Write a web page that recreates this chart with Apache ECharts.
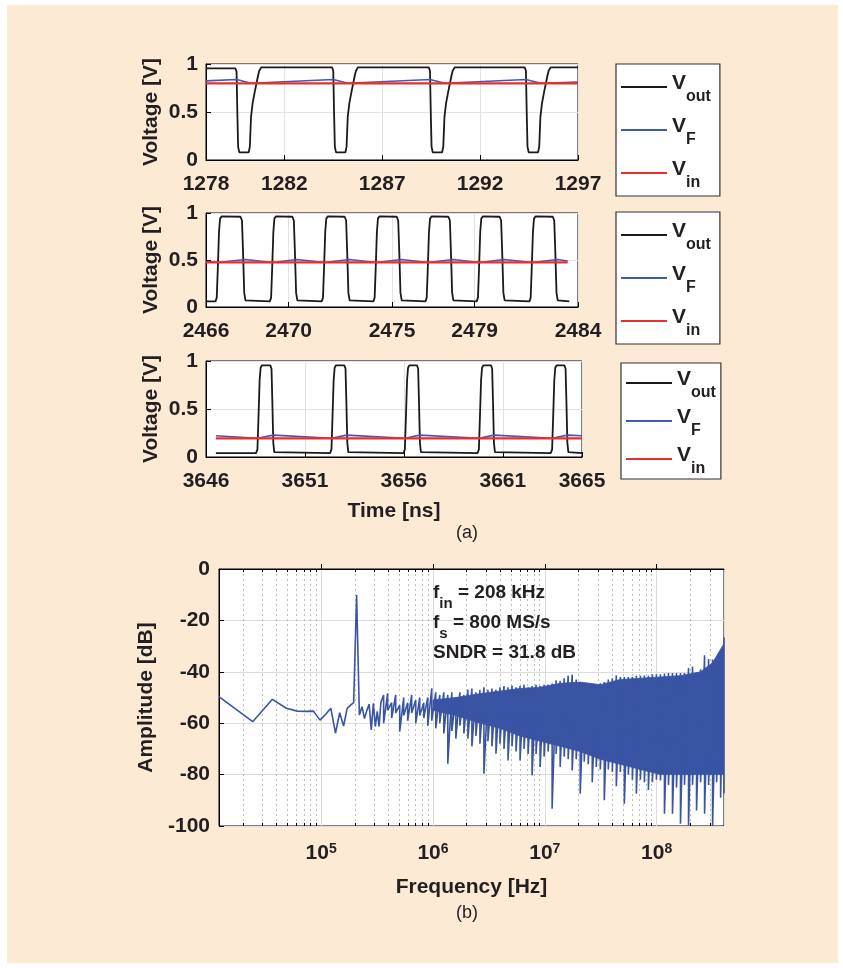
<!DOCTYPE html>
<html>
<head>
<meta charset="utf-8">
<script src="https://cdn.jsdelivr.net/npm/echarts@6/dist/echarts.min.js"></script>
<style>
  html, body { margin: 0; padding: 0; background: #fff; }
  #frame { position: absolute; left: 7px; top: 5px; width: 831px; height: 958px; background: #fdead4; }
  #chart { position: absolute; left: 0; top: 0; width: 843px; height: 968px; }
</style>
</head>
<body>
<div id="frame"></div>
<div id="chart"></div>
<script>
// ---- values ----
const ticks1 = [1278, 1282, 1287, 1292, 1297];
const ticks2 = [2466, 2470, 2475, 2479, 2484];
const ticks3 = [3646, 3651, 3656, 3661, 3665];

// panel 1: [time ns, volts]
const vout1 = [
  [1278.00, 0.955], [1279.50, 0.955], [1279.56, 0.92], [1279.60, 0.50], [1279.64, 0.14], [1279.70, 0.08],
  [1280.18, 0.08], [1280.24, 0.14], [1280.30, 0.45], [1280.38, 0.59], [1280.50, 0.72], [1280.58, 0.80],
  [1280.66, 0.88], [1280.72, 0.93], [1280.82, 0.965],
  [1284.44, 0.965], [1284.50, 0.93], [1284.54, 0.50], [1284.58, 0.14], [1284.64, 0.08],
  [1285.12, 0.08], [1285.18, 0.14], [1285.24, 0.45], [1285.32, 0.59], [1285.44, 0.72], [1285.52, 0.80],
  [1285.60, 0.88], [1285.66, 0.93], [1285.76, 0.965],
  [1289.38, 0.965], [1289.44, 0.93], [1289.48, 0.50], [1289.52, 0.14], [1289.58, 0.08],
  [1290.06, 0.08], [1290.12, 0.14], [1290.18, 0.45], [1290.26, 0.59], [1290.38, 0.72], [1290.46, 0.80],
  [1290.54, 0.88], [1290.60, 0.93], [1290.70, 0.965],
  [1294.28, 0.965], [1294.34, 0.93], [1294.38, 0.50], [1294.42, 0.14], [1294.48, 0.08],
  [1294.96, 0.08], [1295.02, 0.14], [1295.08, 0.45], [1295.16, 0.59], [1295.28, 0.72], [1295.36, 0.80],
  [1295.44, 0.88], [1295.50, 0.93], [1295.60, 0.965],
  [1297.00, 0.965]
];
const vf1 = [
  [1278, 0.824], [1279.57, 0.838], [1280.3, 0.80], [1284.5, 0.838], [1285.25, 0.80],
  [1289.44, 0.838], [1290.2, 0.80], [1294.34, 0.838], [1295.1, 0.80], [1297, 0.813]
];
const vin1 = [[1278, 0.798], [1297, 0.798]];

// panel 2
const vout2 = [
  [2466.00, 0.06],
  [2466.46, 0.06], [2466.52, 0.10], [2466.57, 0.40], [2466.63, 0.80], [2466.68, 0.94], [2466.76, 0.965],
  [2467.67, 0.96], [2467.74, 0.92], [2467.79, 0.60], [2467.85, 0.15], [2467.91, 0.07], [2467.97, 0.06],
  [2469.09, 0.06], [2469.15, 0.10], [2469.20, 0.40], [2469.26, 0.80], [2469.31, 0.94], [2469.39, 0.965],
  [2470.18, 0.96], [2470.25, 0.92], [2470.30, 0.60], [2470.36, 0.15], [2470.42, 0.07], [2470.48, 0.06],
  [2471.60, 0.06], [2471.66, 0.10], [2471.71, 0.40], [2471.77, 0.80], [2471.82, 0.94], [2471.90, 0.965],
  [2472.71, 0.96], [2472.78, 0.92], [2472.83, 0.60], [2472.89, 0.15], [2472.95, 0.07], [2473.01, 0.06],
  [2474.10, 0.06], [2474.16, 0.10], [2474.21, 0.40], [2474.27, 0.80], [2474.32, 0.94], [2474.40, 0.965],
  [2475.23, 0.96], [2475.30, 0.92], [2475.35, 0.60], [2475.41, 0.15], [2475.47, 0.07], [2475.53, 0.06],
  [2476.62, 0.06], [2476.68, 0.10], [2476.73, 0.40], [2476.79, 0.80], [2476.84, 0.94], [2476.92, 0.965],
  [2477.73, 0.96], [2477.80, 0.92], [2477.85, 0.60], [2477.91, 0.15], [2477.97, 0.07], [2478.03, 0.06],
  [2479.10, 0.06], [2479.16, 0.10], [2479.21, 0.40], [2479.27, 0.80], [2479.32, 0.94], [2479.40, 0.965],
  [2480.21, 0.96], [2480.28, 0.92], [2480.33, 0.60], [2480.39, 0.15], [2480.45, 0.07], [2480.51, 0.06],
  [2481.65, 0.06], [2481.71, 0.10], [2481.76, 0.40], [2481.82, 0.80], [2481.87, 0.94], [2481.95, 0.965],
  [2482.78, 0.96], [2482.85, 0.92], [2482.90, 0.60], [2482.96, 0.15], [2483.02, 0.07], [2483.08, 0.06],
  [2483.58, 0.06]
];
const vf2 = [
  [2466.0, 0.485], [2466.6, 0.474], [2467.9, 0.506], [2469.23, 0.474], [2470.4, 0.506],
  [2471.74, 0.474], [2472.93, 0.506], [2474.24, 0.474], [2475.45, 0.506], [2476.76, 0.474],
  [2477.95, 0.506], [2479.24, 0.474], [2480.43, 0.506], [2481.79, 0.474], [2483.0, 0.506], [2483.5, 0.49]
];
const vin2 = [[2466, 0.475], [2483.5, 0.475]];

// panel 3
const vout3 = [
  [3646.50, 0.04],
  [3648.53, 0.04], [3648.60, 0.08], [3648.65, 0.40], [3648.71, 0.80], [3648.76, 0.93], [3648.83, 0.955],
  [3649.25, 0.955], [3649.31, 0.92], [3649.35, 0.60], [3649.40, 0.15], [3649.45, 0.05], [3649.51, 0.04],
  [3652.27, 0.04], [3652.34, 0.08], [3652.39, 0.40], [3652.45, 0.80], [3652.50, 0.93], [3652.57, 0.955],
  [3652.99, 0.955], [3653.05, 0.92], [3653.09, 0.60], [3653.14, 0.15], [3653.19, 0.05], [3653.25, 0.04],
  [3655.98, 0.04], [3656.05, 0.08], [3656.10, 0.40], [3656.16, 0.80], [3656.21, 0.93], [3656.28, 0.955],
  [3656.66, 0.955], [3656.72, 0.92], [3656.76, 0.60], [3656.81, 0.15], [3656.86, 0.05], [3656.92, 0.04],
  [3659.72, 0.04], [3659.79, 0.08], [3659.84, 0.40], [3659.90, 0.80], [3659.95, 0.93], [3660.02, 0.955],
  [3660.40, 0.955], [3660.46, 0.92], [3660.50, 0.60], [3660.55, 0.15], [3660.60, 0.05], [3660.66, 0.04],
  [3663.42, 0.04], [3663.49, 0.08], [3663.54, 0.40], [3663.60, 0.80], [3663.65, 0.93], [3663.72, 0.955],
  [3664.11, 0.955], [3664.17, 0.92], [3664.21, 0.60], [3664.26, 0.15], [3664.31, 0.05], [3664.37, 0.04],
  [3665.00, 0.04]
];
const vf3 = [
  [3646.5, 0.221], [3648.6, 0.196], [3649.4, 0.228], [3652.35, 0.196], [3653.1, 0.228],
  [3656.05, 0.196], [3656.8, 0.228], [3659.8, 0.196], [3660.55, 0.228], [3663.5, 0.196],
  [3664.25, 0.228], [3665, 0.221]
];
const vin3 = [[3646.5, 0.195], [3665, 0.195]];

// spectrum, first FFT bins: [Hz, dB]
const lowSpectrum = [
  [12207, -49.7], [24414, -59.4], [36621, -50.7], [48828, -54.2], [61035, -55.3], [73242, -55.4],
  [85449, -55.3], [97656, -58.8], [109863, -56.5], [122070, -54.2], [134277, -63.9], [146484, -55.9],
  [158691, -61.1], [170898, -54.2], [183105, -53], [195313, -52], [207520, -10.1], [219727, -56.8],
  [231934, -53.6], [244141, -58.2], [256348, -55], [268555, -52.6], [280762, -62.6], [292969, -52.3],
  [305176, -61.3], [317383, -55.4], [329590, -61.3], [341797, -52]
];
// noise floor above that: [Hz, upper dB, lower dB]
const noiseEnvelope = [
  [3.62e5, -49, -60], [3.93e5, -48.4, -55], [4.27e5, -52, -58], [4.64e5, -49, -56], [5.04e5, -53, -63.3],
  [5.47e5, -50, -57], [5.94e5, -52, -59], [6.45e5, -49, -56], [7.01e5, -51, -60], [7.61e5, -50, -57],
  [8.27e5, -52, -58], [8.98e5, -50, -61], [9.75e5, -46.4, -59], [1.059e6, -48, -62], [1.150e6, -49, -60],
  [1.250e6, -48, -64], [1.357e6, -49, -75.8], [1.474e6, -48, -63], [1.601e6, -50, -66], [1.739e6, -48, -61],
  [1.889e6, -49, -64], [2.051e6, -47, -66], [2.228e6, -46.5, -69], [2.420e6, -48, -65], [2.628e6, -47, -68],
  [2.854e6, -46, -79.7], [3.100e6, -47, -67], [3.367e6, -46.5, -69], [3.657e6, -47, -71.9], [3.972e6, -46, -68],
  [4.314e6, -45.5, -70], [4.685e6, -46, -74.5], [5.088e6, -45.3, -69], [5.527e6, -46, -71], [6.003e6, -45.5, -74.5],
  [6.519e6, -45, -70], [7.080e6, -46, -72], [7.690e6, -45.5, -80.3], [8.352e6, -45, -72], [9.071e6, -45.5, -77],
  [9.85e6, -45, -73], [1.070e7, -45, -71], [1.162e7, -44.6, -93.3], [1.262e7, -43.3, -72], [1.371e7, -43.5, -77],
  [1.489e7, -42.5, -73], [1.617e7, -41.5, -74], [1.756e7, -41.1, -78.4], [1.908e7, -43, -74], [2.072e7, -44, -87.4],
  [2.250e7, -44.5, -75], [2.444e7, -45.5, -76], [2.654e7, -45.7, -83], [2.883e7, -45, -77], [3.131e7, -44.5, -78],
  [3.401e7, -44, -90], [3.694e7, -43, -78], [4.012e7, -42.5, -79], [4.357e7, -41.4, -84.5], [4.732e7, -42, -79],
  [5.140e7, -42, -91.3], [5.582e7, -42, -80], [6.063e7, -42, -82], [6.585e7, -41.5, -87.4], [7.152e7, -41.5, -82],
  [7.768e7, -41.4, -83], [8.436e7, -41.5, -86], [9.162e7, -41, -83], [9.95e7, -41, -82], [1.081e8, -41, -82.3],
  [1.174e8, -40.7, -95.2], [1.275e8, -40.5, -84], [1.385e8, -40.5, -95.2], [1.504e8, -40.5, -85], [1.633e8, -40.5, -99.1],
  [1.774e8, -40.5, -84], [1.927e8, -38.5, -99.8], [2.093e8, -37.9, -84], [2.273e8, -40.3, -94], [2.469e8, -39, -83],
  [2.681e8, -33.6, -95.2], [2.912e8, -35, -84], [3.162e8, -35.2, -100], [3.435e8, -34.9, -83], [3.730e8, -31.7, -89],
  [4.0e8, -26.7, -87.4]
];
// solid core of the noise: [Hz, top dB, bottom dB]
const noiseBand = [
  [1.0e6, -51, -55], [1.6e6, -50, -57], [2.63e6, -48.5, -60], [3.98e6, -47.5, -62], [6.0e6, -46.5, -65],
  [9.07e6, -46, -67], [1.37e7, -44.5, -69], [2.07e7, -44, -71], [3.13e7, -45, -74], [4.73e7, -43, -76],
  [7.15e7, -42.5, -78], [1.08e8, -42, -80], [1.63e8, -41.5, -80], [2.47e8, -40, -80], [3.16e8, -36.5, -80],
  [4.0e8, -29, -80]
];
const decades = [1e4, 1e5, 1e6, 1e7, 1e8];
const fMin = 12207, fMax = 4e8;

// ---- styling ----
const FONT = 'Liberation Sans, Arial, Helvetica, sans-serif';
const INK = '#231f20';
const BLACK = '#1a1a1a', BLUE_F = '#3b5bb5', RED = '#ee2b2d', BLUE_S = '#3a54a4';
const GRIDC = '#e2e2e2';

const minorF = [];
decades.forEach(d => { for (let k = 2; k <= 9; k++) { const f = d * k; if (f > fMin && f < fMax) minorF.push(f); } });

const bold = (size) => ({ fontFamily: FONT, fontWeight: 'bold', fontSize: size, color: INK });

function timeXAxis(idx, ticks, name) {
  return {
    type: 'value', gridIndex: idx, min: ticks[0], max: ticks[ticks.length - 1],
    name: name || '', nameLocation: 'middle', nameGap: 44, nameTextStyle: bold(21),
    axisLine: { lineStyle: { color: '#000', width: 1 } },
    axisTick: { inside: true, length: 5, lineStyle: { color: '#000' }, customValues: ticks },
    axisLabel: Object.assign(bold(21), { margin: 14, customValues: ticks, formatter: v => String(v) }),
    splitLine: { show: true, lineStyle: { color: GRIDC, width: 1 } }
  };
}
function timeYAxis(idx) {
  return {
    type: 'value', gridIndex: idx, min: 0, max: 1, interval: 0.5,
    name: 'Voltage [V]', nameLocation: 'middle', nameGap: 44, nameTextStyle: bold(21),
    axisLine: { lineStyle: { color: '#000', width: 1 } },
    axisTick: { inside: true, length: 5, lineStyle: { color: '#000' } },
    axisLabel: Object.assign(bold(21), { margin: 8 }),
    splitLine: { show: true, lineStyle: { color: GRIDC, width: 1 } }
  };
}
function trace(name, idx, data, color, width) {
  return {
    type: 'line', name: name, xAxisIndex: idx, yAxisIndex: idx, data: data,
    symbol: 'none', color: color, lineStyle: { color: color, width: width }, silent: true
  };
}
const legendNames = { Vout: '{v|V}{s|out}', VF: '{v|V}{s|F}', Vin: '{v|V}{s|in}' };
function legendBox(left, top, padding, gap) {
  return {
    orient: 'vertical', left: left, top: top, padding: padding, itemGap: gap,
    itemWidth: 46, itemHeight: 2, icon: 'rect', selectedMode: false,
    backgroundColor: '#fff', borderColor: '#333', borderWidth: 1.2, borderRadius: 0,
    data: ['Vout', 'VF', 'Vin'],
    formatter: n => legendNames[n],
    textStyle: {
      rich: {
        v: { fontFamily: FONT, fontWeight: 'bold', fontSize: 21, color: INK, lineHeight: 18, padding: [0, 0, 8, 0] },
        s: { fontFamily: FONT, fontWeight: 'bold', fontSize: 16, color: INK, lineHeight: 12, padding: [20, 0, 0, 0] }
      }
    }
  };
}

const spectrumLine = lowSpectrum.concat(noiseEnvelope.flatMap(r => [[r[0], r[1]], [r[0], r[2]]]));

// filled core of the noise floor, one quad per pair of neighbouring rows
function renderBand(params, api) {
  const i = params.dataIndex;
  if (i >= noiseBand.length - 1) return null;
  const p = noiseBand[i], q = noiseBand[i + 1];
  const pts = [api.coord([p[0], p[1]]), api.coord([q[0], q[1]]), api.coord([q[0], q[2]]), api.coord([p[0], p[2]])];
  return { type: 'polygon', shape: { points: pts }, style: { fill: BLUE_S, stroke: BLUE_S, lineWidth: 0.8 } };
}

const annRich = {
  m: { fontFamily: FONT, fontWeight: 'bold', fontSize: 19, color: INK, lineHeight: 19, verticalAlign: 'middle' },
  s: { fontFamily: FONT, fontWeight: 'bold', fontSize: 15, color: INK, lineHeight: 14, padding: [22, 0, 0, 0], verticalAlign: 'middle' }
};

const option = {
  animation: false,
  textStyle: { fontFamily: FONT },
  grid: [
    { left: 206, top: 64, width: 372, height: 96 },
    { left: 206, top: 213, width: 372, height: 94 },
    { left: 206, top: 361, width: 376, height: 96 },
    { left: 219, top: 569, width: 505, height: 257 }
  ].map(g => Object.assign(g, { show: true, backgroundColor: '#fff', borderColor: '#000', borderWidth: 1, outerBoundsMode: 'none' })),
  xAxis: [
    timeXAxis(0, ticks1),
    timeXAxis(1, ticks2),
    timeXAxis(2, ticks3, 'Time [ns]'),
    {
      type: 'log', logBase: 10, gridIndex: 3, min: fMin, max: fMax,
      name: 'Frequency [Hz]', nameLocation: 'middle', nameGap: 51, nameTextStyle: bold(21),
      axisLine: { lineStyle: { color: '#000', width: 1 } },
      axisTick: { inside: true, length: 5, lineStyle: { color: '#000' } },
      axisLabel: {
        margin: 16, showMinLabel: false, showMaxLabel: false,
        formatter: v => '{b|10}{p|' + Math.round(Math.log10(v)) + '}',
        rich: {
          b: { fontFamily: FONT, fontWeight: 'bold', fontSize: 21, color: INK, lineHeight: 22 },
          p: { fontFamily: FONT, fontWeight: 'bold', fontSize: 14, color: INK, lineHeight: 10, verticalAlign: 'top' }
        }
      },
      splitLine: { show: true, lineStyle: { color: '#dcdcdc', width: 1 } }
    }
  ],
  yAxis: [
    timeYAxis(0), timeYAxis(1), timeYAxis(2),
    {
      type: 'value', gridIndex: 3, min: -100, max: 0, interval: 20,
      name: 'Amplitude [dB]', nameLocation: 'middle', nameGap: 59, nameTextStyle: bold(21),
      axisLine: { lineStyle: { color: '#000', width: 1 } },
      axisTick: { inside: true, length: 5, lineStyle: { color: '#000' } },
      axisLabel: Object.assign(bold(21), { margin: 9 }),
      splitLine: { show: true, lineStyle: { color: '#dcdcdc', width: 1 } }
    }
  ],
  legend: [
    legendBox(616, 64, [5, 9, 5, 5], 7),
    legendBox(616, 212, [5, 9, 5, 5], 7),
    legendBox(621, 363, [2, 5, 2, 5], 2)
  ],
  series: [
    trace('Vout', 0, vout1, BLACK, 1.8), trace('VF', 0, vf1, BLUE_F, 1.6), trace('Vin', 0, vin1, RED, 2.2),
    trace('Vout', 1, vout2, BLACK, 1.8), trace('VF', 1, vf2, BLUE_F, 1.6), trace('Vin', 1, vin2, RED, 2.2),
    trace('Vout', 2, vout3, BLACK, 1.8), trace('VF', 2, vf3, BLUE_F, 1.6), trace('Vin', 2, vin3, RED, 2.2),
    {
      // minor log grid and minor ticks
      type: 'line', name: 'minor-grid', xAxisIndex: 3, yAxisIndex: 3, data: [], silent: true,
      markLine: {
        silent: true, symbol: 'none', z: 1, label: { show: false }, animation: false,
        lineStyle: { color: '#bdbdbd', width: 1, type: [2, 3] },
        data: minorF.map(f => ({ xAxis: f }))
          .concat(minorF.map(f => [{ coord: [f, -100], lineStyle: { type: 'solid', color: '#000' } }, { coord: [f, -98.8] }]))
          .concat(minorF.map(f => [{ coord: [f, 0], lineStyle: { type: 'solid', color: '#000' } }, { coord: [f, -1.2] }]))
      }
    },
    {
      type: 'custom', name: 'band', xAxisIndex: 3, yAxisIndex: 3, data: noiseBand,
      encode: { x: 0, y: [1, 2] }, renderItem: renderBand, silent: true, clip: true
    },
    {
      type: 'line', name: 'spectrum', xAxisIndex: 3, yAxisIndex: 3, data: spectrumLine,
      symbol: 'none', color: BLUE_S, lineStyle: { color: BLUE_S, width: 1.6 }, silent: true
    }
  ],
  graphic: [
    { type: 'text', x: 467, y: 533, z: 100, style: { text: '(a)', fontFamily: FONT, fontSize: 18, fill: INK, align: 'center', verticalAlign: 'middle' } },
    { type: 'text', x: 467, y: 913, z: 100, style: { text: '(b)', fontFamily: FONT, fontSize: 18, fill: INK, align: 'center', verticalAlign: 'middle' } },
    { type: 'text', x: 433, y: 583, z: 100, style: { text: '{m|f}{s|in}{m| = 208 kHz}', rich: annRich, verticalAlign: 'top', fill: INK } },
    { type: 'text', x: 433, y: 613, z: 100, style: { text: '{m|f}{s|s}{m| = 800 MS/s}', rich: annRich, verticalAlign: 'top', fill: INK } },
    { type: 'text', x: 433, y: 653, z: 100, style: { text: 'SNDR = 31.8 dB', fontFamily: FONT, fontWeight: 'bold', fontSize: 19, fill: INK, verticalAlign: 'middle' } }
  ]
};

const chart = echarts.init(document.getElementById('chart'), null, { renderer: 'canvas' });
chart.setOption(option);
window.addEventListener('resize', () => chart.resize());
</script>
</body>
</html>
